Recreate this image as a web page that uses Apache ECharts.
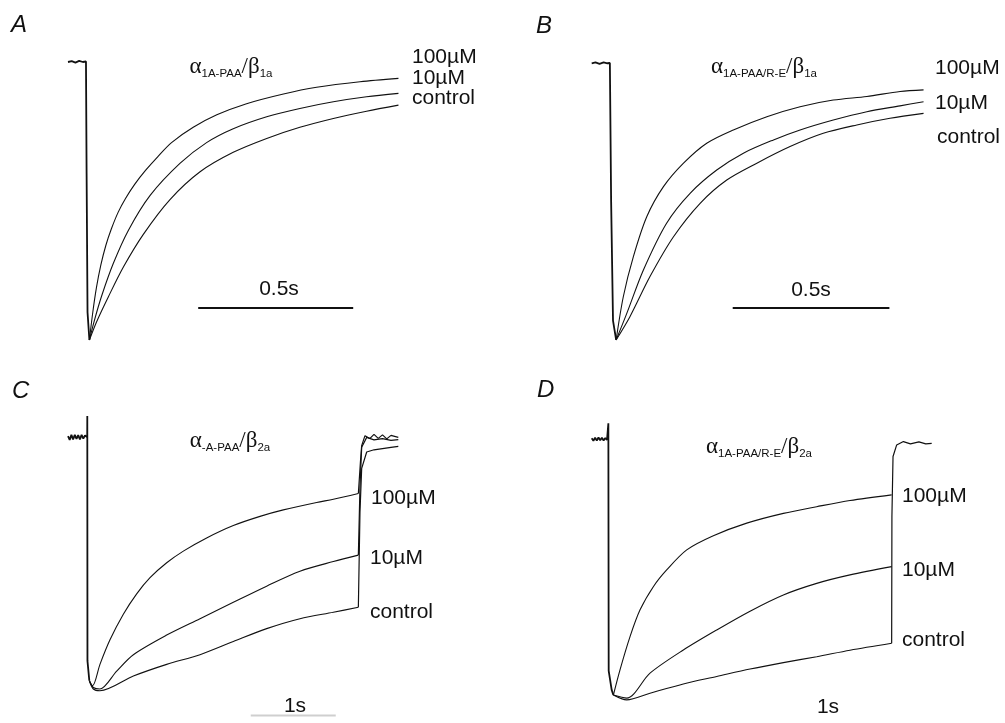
<!DOCTYPE html>
<html>
<head>
<meta charset="utf-8">
<style>html,body{margin:0;background:#fff}#chart{width:1005px;height:723px}</style>
<script src="https://cdn.jsdelivr.net/npm/echarts@6/dist/echarts.min.js"></script>
</head>
<body>
<div id="chart"></div>
<script>
// time in s, current normalised to the peak (0 = holding, -1 = peak)

// A: a1A-PAA / b1a
const stepA = [[0, 0], [0.012, 0.003], [0.024, -0.002], [0.036, 0.004], [0.048, 0], [0.058, 0.002], [0.060, -0.4], [0.063, -0.9], [0.069, -1]];
const a100A = [[0.069, -1], [0.080, -0.90], [0.092, -0.81], [0.106, -0.73], [0.122, -0.66], [0.140, -0.60], [0.162, -0.54], [0.186, -0.49], [0.215, -0.44], [0.250, -0.39], [0.290, -0.34], [0.334, -0.29], [0.404, -0.235], [0.480, -0.190], [0.576, -0.150], [0.695, -0.115], [0.802, -0.091], [0.942, -0.071], [1.066, -0.059]];
const a10A = [[0.069, -1], [0.085, -0.93], [0.109, -0.84], [0.146, -0.725], [0.195, -0.605], [0.265, -0.48], [0.361, -0.365], [0.447, -0.29], [0.533, -0.24], [0.641, -0.197], [0.748, -0.167], [0.856, -0.143], [0.963, -0.125], [1.066, -0.113]];
const ctlA = [[0.069, -1], [0.092, -0.935], [0.130, -0.845], [0.180, -0.735], [0.243, -0.62], [0.329, -0.495], [0.426, -0.395], [0.533, -0.325], [0.641, -0.275], [0.748, -0.235], [0.856, -0.203], [0.963, -0.177], [1.066, -0.155]];
const barA = [[0.42, -0.885], [0.92, -0.885]];

// B: a1A-PAA/R-E / b1a
const stepB = [[0, 0], [0.012, 0.003], [0.025, -0.002], [0.038, 0.003], [0.05, 0], [0.058, 0.001], [0.062, -0.5], [0.068, -0.93], [0.078, -1]];
const a100B = [[0.078, -1], [0.101, -0.843], [0.133, -0.699], [0.176, -0.554], [0.229, -0.446], [0.293, -0.361], [0.367, -0.289], [0.452, -0.241], [0.559, -0.193], [0.665, -0.157], [0.771, -0.133], [0.878, -0.120], [0.984, -0.102], [1.059, -0.096]];
const a10B = [[0.078, -1], [0.112, -0.904], [0.165, -0.747], [0.239, -0.578], [0.314, -0.470], [0.399, -0.386], [0.484, -0.325], [0.580, -0.277], [0.665, -0.241], [0.771, -0.205], [0.878, -0.175], [0.984, -0.154], [1.059, -0.139]];
const ctlB = [[0.078, -1], [0.122, -0.916], [0.186, -0.771], [0.261, -0.627], [0.346, -0.506], [0.431, -0.422], [0.527, -0.361], [0.633, -0.301], [0.739, -0.253], [0.846, -0.223], [0.952, -0.199], [1.059, -0.181]];
const barB = [[0.45, -0.885], [0.95, -0.885]];

// C: a1A-PAA / b2a
const stepC = [[0, 0.005], [0.02, -0.01], [0.04, 0.01], [0.06, -0.008], [0.08, 0.01], [0.10, -0.006], [0.12, 0.009], [0.14, -0.008], [0.16, 0.01], [0.18, -0.005], [0.20, 0.008], [0.226, 0], [0.227, 0.086], [0.229, -0.9], [0.251, -0.98]];
const a100C = [[0.251, -0.98], [0.290, -1.0], [0.376, -0.914], [0.494, -0.815], [0.651, -0.712], [0.808, -0.630], [0.965, -0.565], [1.161, -0.505], [1.357, -0.458], [1.631, -0.405], [1.945, -0.355], [2.259, -0.318], [2.533, -0.292], [2.925, -0.262], [3.122, -0.249], [3.416, -0.226]];
const a10C = [[0.251, -0.98], [0.298, -1.007], [0.376, -1.013], [0.573, -0.941], [0.769, -0.875], [1.161, -0.796], [1.553, -0.730], [1.945, -0.664], [2.337, -0.599], [2.729, -0.539], [3.122, -0.500], [3.416, -0.474]];
const ctlC = [[0.251, -0.98], [0.298, -1.013], [0.376, -1.020], [0.769, -0.961], [1.161, -0.914], [1.553, -0.875], [1.945, -0.822], [2.337, -0.770], [2.729, -0.730], [3.122, -0.704], [3.416, -0.684]];
const tail100C = [[3.416, -0.226], [3.440, -0.10], [3.455, -0.033], [3.494, 0.007], [3.55, -0.005], [3.6, 0.012], [3.65, -0.004], [3.7, 0.010], [3.75, -0.006], [3.8, 0.008], [3.886, 0]];
const tail10C = [[3.416, -0.474], [3.435, -0.2], [3.455, -0.04], [3.514, 0], [3.6, -0.01], [3.7, -0.005], [3.8, -0.012], [3.886, -0.009]];
const tailCtlC = [[3.416, -0.684], [3.435, -0.3], [3.455, -0.125], [3.514, -0.059], [3.6, -0.05], [3.7, -0.045], [3.8, -0.04], [3.886, -0.036]];
const barC = [[2.15, -1.12], [3.15, -1.12]];

// D: a1A-PAA/R-E / b2a
const stepD = [[0, 0.004], [0.02, -0.006], [0.04, 0.006], [0.06, -0.005], [0.08, 0.007], [0.10, -0.004], [0.12, 0.006], [0.14, -0.005], [0.16, 0.005], [0.18, -0.003], [0.195, 0], [0.196, 0.062], [0.200, -0.9], [0.235, -0.974], [0.255, -0.994]];
const a100D = [[0.255, -0.994], [0.333, -0.896], [0.451, -0.767], [0.569, -0.663], [0.725, -0.573], [0.882, -0.508], [1.118, -0.430], [1.431, -0.375], [1.824, -0.326], [2.255, -0.288], [2.647, -0.262], [3.039, -0.238], [3.529, -0.216]];
const a10D = [[0.255, -0.994], [0.412, -1.006], [0.686, -0.909], [1.078, -0.819], [1.471, -0.741], [1.863, -0.668], [2.255, -0.605], [2.647, -0.560], [3.039, -0.527], [3.529, -0.495]];
const ctlD = [[0.255, -0.994], [0.412, -1.013], [0.686, -0.987], [1.078, -0.951], [1.471, -0.922], [1.863, -0.893], [2.255, -0.868], [2.647, -0.845], [3.039, -0.820], [3.529, -0.793]];
const tailD = [[3.529, -0.793], [3.532, -0.3], [3.545, -0.067], [3.588, -0.022], [3.667, -0.009], [3.75, -0.018], [3.85, -0.01], [3.93, -0.018], [4.0, -0.016]];

const concLabels = ['100µM', '10µM', 'control'];

const panels = [
  { grid: { left: 68, top: 34.2, width: 341, height: 333.6 }, x: [0, 1.1], y: [-1.1, 0.1],
    step: stepA, curves: [a100A, a10A, ctlA], tails: [], bar: barA, barColor: '#111' },
  { grid: { left: 591.7, top: 35.6, width: 344.7, height: 332 }, x: [0, 1.1], y: [-1.1, 0.1],
    step: stepB, curves: [a100B, a10B, ctlB], tails: [], bar: barB, barColor: '#111' },
  { grid: { left: 68, top: 387.7, width: 340, height: 342 }, x: [0, 4], y: [-1.15, 0.2],
    step: stepC, curves: [a100C, a10C, ctlC], tails: [tail100C, tail10C, tailCtlC], bar: barC, barColor: '#cfcfcf' },
  { grid: { left: 591.7, top: 387.8, width: 340, height: 334.5 }, x: [0, 4], y: [-1.1, 0.2],
    step: stepD, curves: [a100D, a10D, ctlD], tails: [tailD], bar: null }
];

const line = (i, data, width, smooth, color) => ({
  type: 'line', xAxisIndex: i, yAxisIndex: i, data: data,
  symbol: 'none', smooth: smooth, clip: false, silent: true,
  lineStyle: { color: color || '#111', width: width }
});

const series = [];
panels.forEach((p, i) => {
  series.push(line(i, p.step, 1.8, false));
  p.curves.forEach(c => series.push(line(i, c, 1.1, 0.3)));
  p.tails.forEach(c => series.push(line(i, c, 1.2, false)));
  if (p.bar) series.push(line(i, p.bar, 2, false, p.barColor));
});

const sans = "'Liberation Sans', Arial, sans-serif";
const serif = "'Liberation Serif', 'Times New Roman', serif";

const txt = (x, y, text, size, align, italic) => ({
  type: 'text', x: x, y: y, silent: true,
  style: { text: text, fill: '#111', fontFamily: sans, fontSize: size,
    fontStyle: italic ? 'italic' : 'normal', align: align || 'left', verticalAlign: 'middle' }
});

const title = (x, y, sub1, sub2) => ({
  type: 'text', x: x, y: y, silent: true,
  style: {
    text: '{g|α}{s|' + sub1 + '}{g|/β}{s|' + sub2 + '}',
    align: 'center', verticalAlign: 'middle',
    rich: {
      g: { fontFamily: serif, fontSize: 23, lineHeight: 25, fill: '#111' },
      s: { fontFamily: sans, fontSize: 11.5, lineHeight: 13, verticalAlign: 'bottom', fill: '#111' }
    }
  }
});

const labelPos = [
  [[412, 57], [412, 78], [412, 98]],
  [[935, 68], [935, 103], [937, 137]],
  [[371, 498], [370, 558], [370, 612]],
  [[902, 496], [902, 570], [902, 640]]
];

const graphics = [
  txt(11, 25, 'A', 24, 'left', true),
  txt(536, 26, 'B', 24, 'left', true),
  txt(12, 391, 'C', 24, 'left', true),
  txt(537, 390, 'D', 24, 'left', true),
  title(231, 67, '1A-PAA', '1a'),
  title(764, 67, '1A-PAA/R-E', '1a'),
  title(230, 441, '-A-PAA', '2a'),
  title(759, 447, '1A-PAA/R-E', '2a'),
  txt(279, 289, '0.5s', 21, 'center'),
  txt(811, 290, '0.5s', 21, 'center'),
  txt(295, 706, '1s', 21, 'center'),
  txt(828, 707, '1s', 21, 'center')
];
labelPos.forEach(ps => ps.forEach((p, k) => graphics.push(txt(p[0], p[1], concLabels[k], 21))));

const option = {
  animation: false,
  backgroundColor: '#fff',
  grid: panels.map(p => p.grid),
  xAxis: panels.map((p, i) => ({ type: 'value', gridIndex: i, min: p.x[0], max: p.x[1], show: false })),
  yAxis: panels.map((p, i) => ({ type: 'value', gridIndex: i, min: p.y[0], max: p.y[1], show: false })),
  series: series,
  graphic: graphics
};

const chart = echarts.init(document.getElementById('chart'));
chart.setOption(option);
</script>
</body>
</html>
